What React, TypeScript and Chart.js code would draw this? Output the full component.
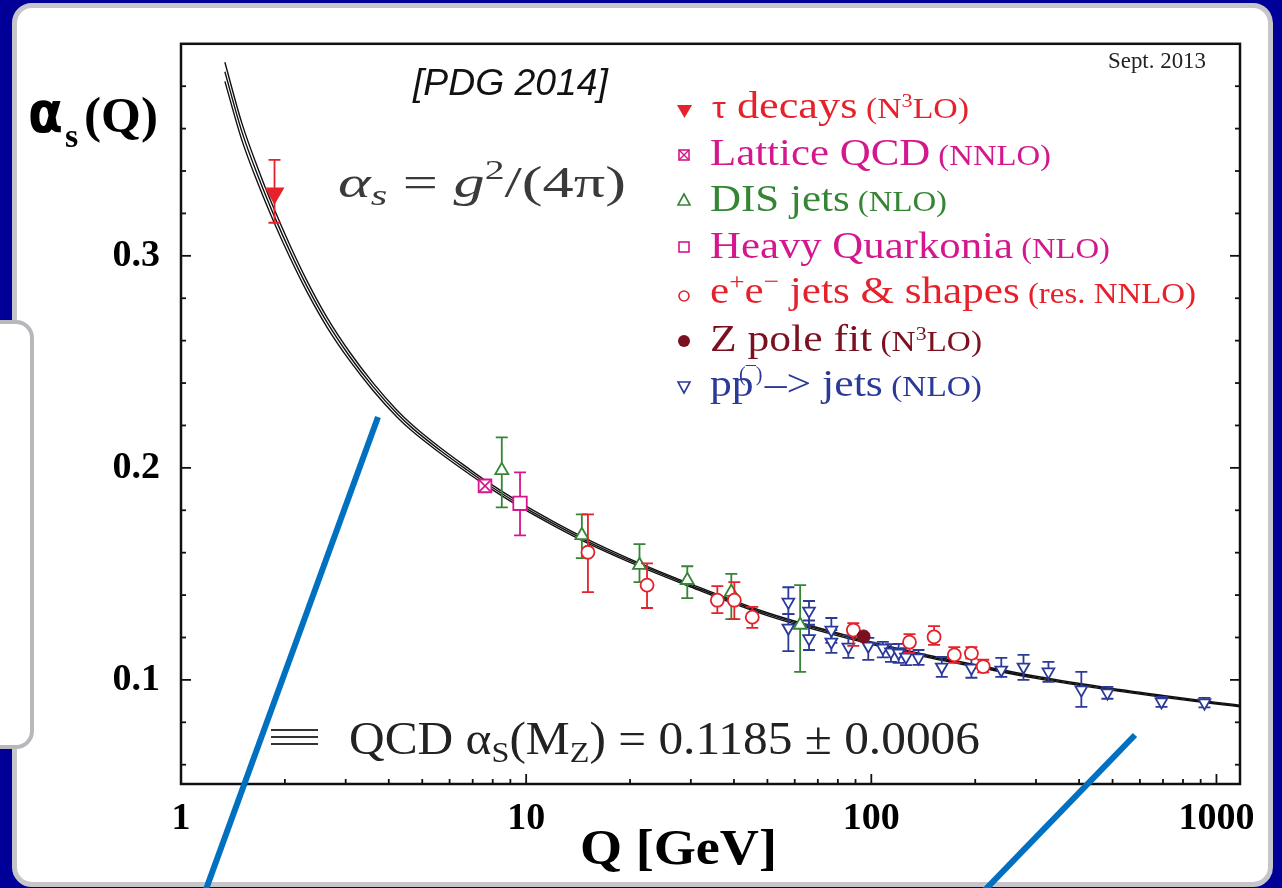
import React, { useEffect, useRef } from "react";
import { Chart, registerables } from "chart.js";

Chart.register(...registerables);

// ---------- QCD running band ----------
const curveQ = [1.34, 1.5, 1.69, 1.85, 2.07, 2.32, 2.65, 3.09, 3.6, 4.23, 4.7, 5.63, 6.74, 7.5, 9.55, 12, 15, 20, 30, 50, 91.2, 150, 200, 300, 500, 700, 1000, 1170];
const curveMid = [0.3868, 0.3587, 0.3356, 0.3199, 0.302, 0.2855, 0.2686, 0.2523, 0.2383, 0.2255, 0.2185, 0.2083, 0.199, 0.1937, 0.1828, 0.1737, 0.1655, 0.1562, 0.1445, 0.131, 0.119, 0.1107, 0.1067, 0.1012, 0.0955, 0.0922, 0.089, 0.0877];
const curveHi = [0.3913, 0.3627, 0.3391, 0.3231, 0.3049, 0.2881, 0.2709, 0.2543, 0.2401, 0.2271, 0.22, 0.2096, 0.2002, 0.1948, 0.1838, 0.17465, 0.1664, 0.157, 0.1452, 0.13165, 0.1196, 0.11125, 0.1072, 0.1017, 0.09595, 0.09265, 0.0894, 0.0881];
const curveLo = [0.3823, 0.3547, 0.3321, 0.3167, 0.2991, 0.2829, 0.2663, 0.2503, 0.2365, 0.2239, 0.217, 0.207, 0.1978, 0.1926, 0.1818, 0.17275, 0.1646, 0.1554, 0.1438, 0.13035, 0.1184, 0.11015, 0.1062, 0.1007, 0.09505, 0.09175, 0.0886, 0.0873];

// ---------- measurements ----------
const tauQ = [1.866];
const tauA = [0.3295];
const tauLo = [0.3156];
const tauHi = [0.3453];

const latQ = [7.6];
const latA = [0.1915];
const latLo = [0.1897];
const latHi = [0.1933];

const disQ = [8.5, 14.5, 21.3, 29.3, 39.3, 62.2];
const disA = [0.1988, 0.1682, 0.1541, 0.147, 0.1414, 0.1259];
const disLo = [0.1814, 0.1574, 0.1461, 0.1386, 0.1287, 0.1038];
const disHi = [0.2144, 0.1781, 0.164, 0.1536, 0.15, 0.1447];

const hqQ = [9.6];
const hqA = [0.1833];
const hqLo = [0.1682];
const hqHi = [0.1979];

const eeQ = [15.1, 22.4, 35.8, 40.1, 45.2, 88.7, 129, 152, 174, 195, 211];
const eeA = [0.1602, 0.1447, 0.1376, 0.1376, 0.1296, 0.1235, 0.1178, 0.1203, 0.1118, 0.1125, 0.1063];
const eeLo = [0.1414, 0.1339, 0.1315, 0.1287, 0.1245, 0.116, 0.1127, 0.1165, 0.108, 0.11, 0.1035];
const eeHi = [0.1781, 0.155, 0.1442, 0.1461, 0.1344, 0.1268, 0.1216, 0.1254, 0.1155, 0.1155, 0.1095];

const zQ = [95];
const zA = [0.1205];

const ppQ = [57.5, 57.5, 66, 66, 76.6, 76.6, 85.8, 98, 108, 114, 120, 126, 137, 160, 195, 238, 276, 326, 406, 483, 693, 923];
const ppA = [0.1367, 0.1245, 0.1325, 0.1195, 0.1235, 0.1179, 0.1155, 0.116, 0.115, 0.1132, 0.1127, 0.1108, 0.1104, 0.1061, 0.1056, 0.1047, 0.1061, 0.1038, 0.0953, 0.0939, 0.0897, 0.0892];
const ppLo = [0.131, 0.1136, 0.126, 0.1141, 0.1175, 0.1127, 0.1104, 0.1094, 0.1106, 0.1085, 0.108, 0.107, 0.1071, 0.1014, 0.101, 0.1014, 0.1, 0.0991, 0.0873, 0.0911, 0.0873, 0.087];
const ppHi = [0.1437, 0.131, 0.1372, 0.128, 0.1292, 0.1235, 0.121, 0.1198, 0.1179, 0.1169, 0.117, 0.115, 0.1141, 0.1108, 0.1108, 0.1104, 0.1118, 0.1085, 0.1038, 0.0967, 0.092, 0.0915];

// ---------- axes ----------
const xMin = 1;
const xMax = 1170;
const yMin = 0.0509;
const yMax = 0.4;
const xMajorTicks = [1, 10, 100, 1000];
const xTickLabels = ["1", "10", "100", "1000"];
const xMinorTicks = [2, 3, 4, 5, 6, 7, 8, 9, 20, 30, 40, 50, 60, 70, 80, 90, 200, 300, 400, 500, 600, 700, 800, 900];
const yMajorTicks = [0.1, 0.2, 0.3];
const yTickLabels = ["0.1", "0.2", "0.3"];
const yMinorTicks = [0.06, 0.08, 0.12, 0.14, 0.16, 0.18, 0.22, 0.24, 0.26, 0.28, 0.32, 0.34, 0.36, 0.38];

const RED = "#e5222b";
const MAG = "#d5178e";
const GREEN = "#348534";
const DARKRED = "#7a1020";
const BLUE = "#2b3a98";
const SERIF = "'Liberation Serif', 'Times New Roman', serif";
const SANS = "'Liberation Sans', Arial, sans-serif";

const pts = (q: number[], a: number[]) => q.map((x, i) => ({ x, y: a[i] }));

const errorBars = {
  id: "errorBars",
  beforeDatasetDraw(chart: any, args: any) {
    const ds = chart.data.datasets[args.index];
    if (!ds.errLo) return;
    const { ctx, scales } = chart;
    ctx.save();
    ctx.strokeStyle = ds.borderColor;
    ctx.lineWidth = 1.8;
    ds.data.forEach((p: any, i: number) => {
      const x = scales.x.getPixelForValue(p.x);
      const yl = scales.y.getPixelForValue(ds.errLo[i]);
      const yh = scales.y.getPixelForValue(ds.errHi[i]);
      ctx.beginPath();
      ctx.moveTo(x, yl);
      ctx.lineTo(x, yh);
      ctx.moveTo(x - 6, yl);
      ctx.lineTo(x + 6, yl);
      ctx.moveTo(x - 6, yh);
      ctx.lineTo(x + 6, yh);
      ctx.stroke();
    });
    ctx.restore();
  },
};

const frame = {
  id: "frame",
  afterDraw(chart: any) {
    const { ctx, chartArea, scales } = chart;
    const { left, right, top, bottom } = chartArea;
    ctx.save();
    ctx.strokeStyle = "#111";
    ctx.lineWidth = 2.5;
    ctx.strokeRect(left, top, right - left, bottom - top);
    ctx.lineWidth = 1.8;
    const t = (x1: number, y1: number, x2: number, y2: number) => {
      ctx.beginPath();
      ctx.moveTo(x1, y1);
      ctx.lineTo(x2, y2);
      ctx.stroke();
    };
    xMajorTicks.forEach((v) => {
      const px = scales.x.getPixelForValue(v);
      t(px, bottom, px, bottom - 10);
    });
    xMinorTicks.forEach((v) => {
      const px = scales.x.getPixelForValue(v);
      t(px, bottom, px, bottom - 5);
    });
    yMajorTicks.forEach((v) => {
      const py = scales.y.getPixelForValue(v);
      t(left, py, left + 10, py);
      t(right, py, right - 10, py);
    });
    yMinorTicks.forEach((v) => {
      const py = scales.y.getPixelForValue(v);
      t(left, py, left + 5, py);
      t(right, py, right - 5, py);
    });
    ctx.restore();
  },
};

const curveDs = (vals: number[]) => ({
  data: pts(curveQ, vals),
  showLine: true,
  pointRadius: 0,
  borderColor: "#111",
  borderWidth: 1.4,
  cubicInterpolationMode: "monotone",
  fill: false,
  order: 10,
});

export default function App() {
  const ref = useRef<HTMLCanvasElement>(null);

  useEffect(() => {
    const datasets: any[] = [
      { data: pts(tauQ, tauA), errLo: tauLo, errHi: tauHi, pointStyle: "triangle", rotation: 180, pointRadius: 10, backgroundColor: RED, borderColor: RED, borderWidth: 1.5 },
      { data: pts(latQ, latA), pointStyle: "crossRot", pointRadius: 8.5, backgroundColor: MAG, borderColor: MAG, borderWidth: 1.6 },
      { data: pts(latQ, latA), errLo: latLo, errHi: latHi, pointStyle: "rect", pointRadius: 9, backgroundColor: "#fff", borderColor: MAG, borderWidth: 1.8 },
      { data: pts(hqQ, hqA), errLo: hqLo, errHi: hqHi, pointStyle: "rect", pointRadius: 9.5, backgroundColor: "#fff", borderColor: MAG, borderWidth: 1.8 },
      { data: pts(zQ, zA), pointStyle: "circle", pointRadius: 6.5, backgroundColor: DARKRED, borderColor: DARKRED, borderWidth: 1 },
      { data: pts(eeQ, eeA), errLo: eeLo, errHi: eeHi, pointStyle: "circle", pointRadius: 6.5, backgroundColor: "#fff", borderColor: RED, borderWidth: 1.8 },
      { data: pts(disQ, disA), errLo: disLo, errHi: disHi, pointStyle: "triangle", pointRadius: 7.5, backgroundColor: "#fff", borderColor: GREEN, borderWidth: 1.8 },
      { data: pts(ppQ, ppA), errLo: ppLo, errHi: ppHi, pointStyle: "triangle", rotation: 180, pointRadius: 6.8, backgroundColor: "#fff", borderColor: BLUE, borderWidth: 1.8 },
      curveDs(curveHi),
      curveDs(curveMid),
      curveDs(curveLo),
    ];

    const chart = new Chart(ref.current as HTMLCanvasElement, {
      type: "scatter",
      data: { datasets },
      options: {
        animation: false,
        responsive: false,
        devicePixelRatio: 1,
        layout: { padding: { left: 0, top: 43, right: 42, bottom: 0 } },
        plugins: { legend: { display: false }, tooltip: { enabled: false } },
        scales: {
          x: {
            type: "logarithmic",
            min: xMin,
            max: xMax,
            grid: { display: false, drawTicks: false },
            border: { display: false },
            afterBuildTicks: (s: any) => {
              s.ticks = xMajorTicks.map((v) => ({ value: v, major: true }));
            },
            afterFit: (s: any) => {
              s.height = 104;
            },
            ticks: {
              autoSkip: false,
              maxRotation: 0,
              minRotation: 0,
              padding: 12,
              color: "#000",
              font: { family: SERIF, size: 38, weight: "bold" },
              callback: (v: any) => {
                const i = xMajorTicks.indexOf(Number(v));
                return i >= 0 ? xTickLabels[i] : "";
              },
            },
          },
          y: {
            type: "linear",
            min: yMin,
            max: yMax,
            grid: { display: false, drawTicks: false },
            border: { display: false },
            afterBuildTicks: (s: any) => {
              s.ticks = yMajorTicks.map((v) => ({ value: v }));
            },
            afterFit: (s: any) => {
              s.width = 181;
            },
            ticks: {
              padding: 21,
              color: "#000",
              font: { family: SERIF, size: 38, weight: "bold" },
              callback: (v: any) => {
                const i = yMajorTicks.findIndex((t) => Math.abs(t - Number(v)) < 1e-6);
                return i >= 0 ? yTickLabels[i] : "";
              },
            },
          },
        },
      } as any,
      plugins: [errorBars, frame],
    });
    return () => chart.destroy();
  }, []);

  const rowFont = { fontFamily: SERIF, fontSize: 38 };

  return (
    <div style={{ position: "absolute", left: 0, top: 0, width: 1282, height: 888, background: "#000099", overflow: "hidden" }}>
      <div
        style={{
          position: "absolute",
          left: 12,
          top: 3,
          width: 1261,
          height: 884,
          background: "#fff",
          border: "5px solid #c6c6ca",
          borderRadius: 20,
          boxSizing: "border-box",
        }}
      />
      <canvas ref={ref} width={1282} height={888} style={{ position: "absolute", left: 0, top: 0 }} />
      <svg width={1282} height={888} style={{ position: "absolute", left: 0, top: 0 }}>
        <rect x={-20} y={322} width={52} height={425} rx={16} fill="#fff" stroke="#b8b8bc" strokeWidth={4} />

        {/* y title */}
        <text x={28} y={132} fontFamily="'DejaVu Sans', sans-serif" fontWeight="bold" fontSize={56} textLength={35} lengthAdjust="spacingAndGlyphs" fill="#000">α</text>
        <text x={65} y={147} fontFamily={SERIF} fontWeight="bold" fontSize={34} fill="#000">s</text>
        <text x={84} y={132} fontFamily={SERIF} fontWeight="bold" fontSize={51} textLength={74} lengthAdjust="spacingAndGlyphs" fill="#000">(Q)</text>

        {/* x title */}
        <text x={580} y={864} fontFamily={SERIF} fontWeight="bold" fontSize={50} textLength={197} lengthAdjust="spacingAndGlyphs" fill="#000">Q [GeV]</text>

        <text x={413} y={95} fontFamily={SANS} fontStyle="italic" fontSize={37} textLength={195} lengthAdjust="spacingAndGlyphs" fill="#111">[PDG 2014]</text>
        <text x={1108} y={68} fontFamily={SERIF} fontSize={23} textLength={98} lengthAdjust="spacingAndGlyphs" fill="#222">Sept. 2013</text>

        {/* formula */}
        <text x={338} y={197} fontFamily={SERIF} fontSize={44} fill="#3a3a3a" textLength={288} lengthAdjust="spacingAndGlyphs">
          <tspan fontStyle="italic">α</tspan>
          <tspan fontStyle="italic" fontSize={30} dy={8}>s</tspan>
          <tspan dy={-8}> = </tspan>
          <tspan fontStyle="italic">g</tspan>
          <tspan fontSize={28} dy={-18}>2</tspan>
          <tspan dy={18}>/(4π)</tspan>
        </text>

        {/* legend markers */}
        <polygon points="677,105 692,105 684.5,118" fill={RED} />
        <rect x={679} y={150} width={10} height={10} fill="none" stroke={MAG} strokeWidth={1.6} />
        <line x1={679} y1={150} x2={689} y2={160} stroke={MAG} strokeWidth={1.4} />
        <line x1={689} y1={150} x2={679} y2={160} stroke={MAG} strokeWidth={1.4} />
        <polygon points="684,194 690,205 678,205" fill="none" stroke={GREEN} strokeWidth={1.6} />
        <rect x={679} y={242} width={10} height={10} fill="none" stroke={MAG} strokeWidth={1.6} />
        <circle cx={684} cy={296} r={5} fill="none" stroke={RED} strokeWidth={1.6} />
        <circle cx={684} cy={341} r={6} fill={DARKRED} />
        <polygon points="678,382 690,382 684,393" fill="none" stroke={BLUE} strokeWidth={1.6} />

        {/* legend texts */}
        <text x={712} y={118} {...rowFont} fill={RED} textLength={257} lengthAdjust="spacingAndGlyphs">
          <tspan fontFamily={SANS} fontSize={30}>τ</tspan>
          <tspan> decays</tspan>
          <tspan fontSize={29}> (N</tspan>
          <tspan fontSize={19} dy={-11}>3</tspan>
          <tspan fontSize={29} dy={11}>LO)</tspan>
        </text>
        <text x={710} y={165} {...rowFont} fill={MAG} textLength={341} lengthAdjust="spacingAndGlyphs">
          <tspan>Lattice QCD</tspan>
          <tspan fontSize={29}> (NNLO)</tspan>
        </text>
        <text x={710} y={211} {...rowFont} fill={GREEN} textLength={237} lengthAdjust="spacingAndGlyphs">
          <tspan>DIS jets</tspan>
          <tspan fontSize={29}> (NLO)</tspan>
        </text>
        <text x={710} y={258} {...rowFont} fill={MAG} textLength={400} lengthAdjust="spacingAndGlyphs">
          <tspan>Heavy Quarkonia</tspan>
          <tspan fontSize={29}> (NLO)</tspan>
        </text>
        <text x={710} y={303} {...rowFont} fill={RED} textLength={486} lengthAdjust="spacingAndGlyphs">
          <tspan>e</tspan>
          <tspan fontSize={24} dy={-14}>+</tspan>
          <tspan dy={14}>e</tspan>
          <tspan fontSize={24} dy={-14}>−</tspan>
          <tspan dy={14}>  jets &amp; shapes</tspan>
          <tspan fontSize={29}> (res. NNLO)</tspan>
        </text>
        <text x={710} y={351} {...rowFont} fill={DARKRED} textLength={272} lengthAdjust="spacingAndGlyphs">
          <tspan>Z pole fit</tspan>
          <tspan fontSize={29}> (N</tspan>
          <tspan fontSize={19} dy={-11}>3</tspan>
          <tspan fontSize={29} dy={11}>LO)</tspan>
        </text>
        <text x={710} y={396} {...rowFont} fill={BLUE} textLength={272} lengthAdjust="spacingAndGlyphs">
          <tspan>pp –&gt; jets</tspan>
          <tspan fontSize={29}> (NLO)</tspan>
        </text>
        <text x={739} y={381} fontFamily={SERIF} fontSize={20} fill={BLUE}>(¯)</text>

        {/* band legend */}
        <line x1={271} y1={730} x2={318} y2={730} stroke="#333" strokeWidth={2} />
        <line x1={271} y1={737} x2={318} y2={737} stroke="#333" strokeWidth={2} />
        <line x1={271} y1={744} x2={318} y2={744} stroke="#333" strokeWidth={2} />
        <text x={349} y={754} fontFamily={SERIF} fontSize={46} fill="#222" textLength={631} lengthAdjust="spacingAndGlyphs">
          <tspan>QCD α</tspan>
          <tspan fontSize={30} dy={8}>S</tspan>
          <tspan dy={-8}>(M</tspan>
          <tspan fontSize={30} dy={8}>Z</tspan>
          <tspan dy={-8}>) = 0.1185 ± 0.0006</tspan>
        </text>

        {/* blue callout lines */}
        <line x1={378} y1={417} x2={205} y2={892} stroke="#0070c0" strokeWidth={6} />
        <line x1={1135} y1={735} x2={983} y2={892} stroke="#0070c0" strokeWidth={6} />
      </svg>
    </div>
  );
}
